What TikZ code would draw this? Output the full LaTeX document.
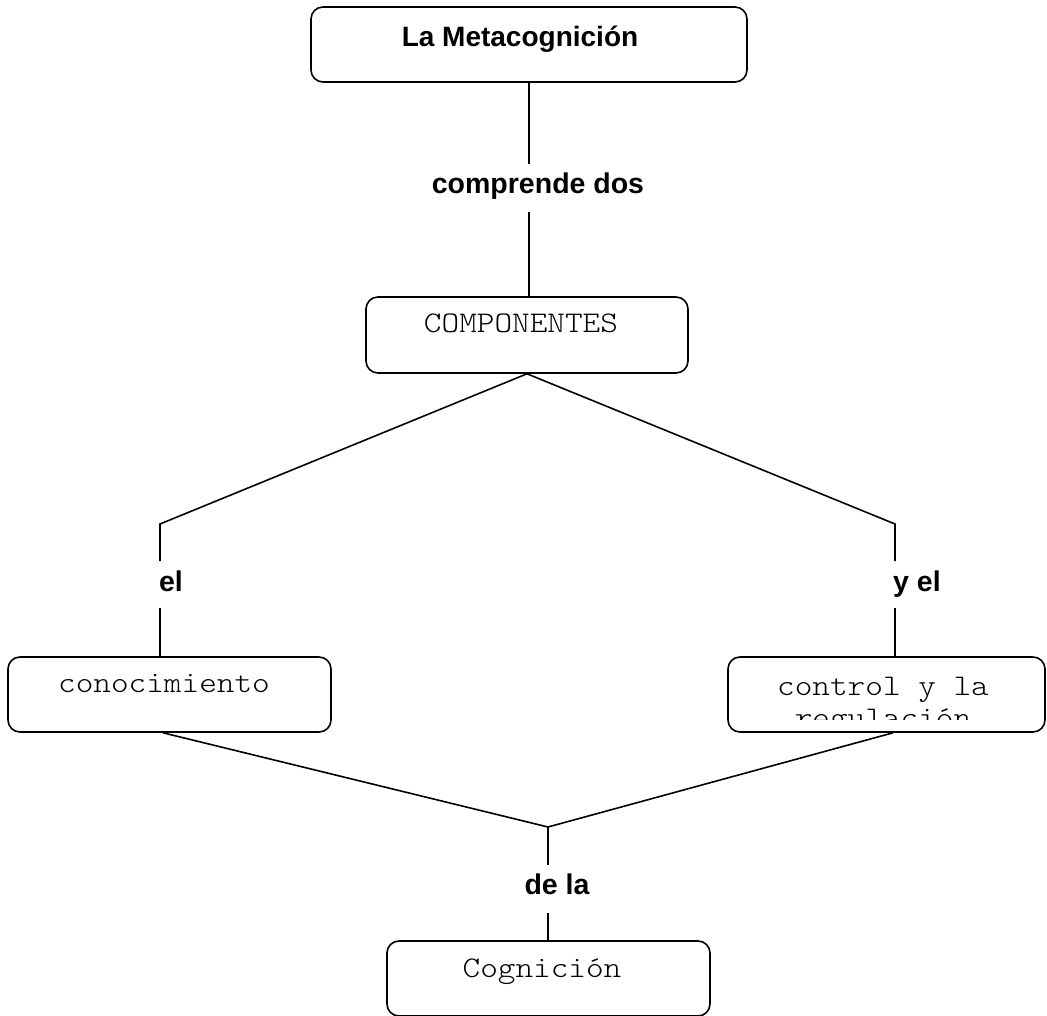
\documentclass[tikz,border=0pt]{standalone}
\usepackage{fontspec}
\setmainfont{Liberation Sans}
\newfontfamily\monofam[FakeStretch=1.12]{lmmonolt10-regular.otf}
\begin{document}
\begin{tikzpicture}[x=1pt,y=-1pt,
  box/.style={draw, line width=1.6pt, rounded corners=12pt, inner sep=0pt},
  boxtext/.style={anchor=base, inner sep=0pt, font=\monofam\fontsize{30}{32}\selectfont},
  title/.style={anchor=base, inner sep=0pt, font=\bfseries\fontsize{28}{32}\selectfont},
  linkword/.style={anchor=base, inner sep=0pt, font=\bfseries\fontsize{28.5}{32}\selectfont},
  link/.style={line width=1.6pt}]
\useasboundingbox (0,0) rectangle (1047,1016);

% concept boxes
\node[box, minimum width=436pt, minimum height=75pt] (meta) at (529,44.5) {};
\node[title] (metat) at (520,47) {La Metacognición};

\node[box, minimum width=322pt, minimum height=76pt] (comp) at (527,335) {};
\node[boxtext] (compt) at (521,333) {COMPONENTES};

\node[box, minimum width=323pt, minimum height=75pt] (con) at (169.5,694.5) {};
\node[boxtext] (cont) at (164,692) {conocimiento};

\node[box, minimum width=317pt, minimum height=75pt] (ctrl) at (886.5,694.5) {};
\begin{scope}
  \clip (729,658) rectangle (1044,719);
  \node[boxtext] (ctrla) at (883,695) {control y la};
  \node[boxtext] (ctrlb) at (883,727) {regulación};
\end{scope}

\node[box, minimum width=323pt, minimum height=75pt] (cog) at (548.5,978.5) {};
\node[boxtext] (cogt) at (542,977) {Cognición};

% linking words
\node[linkword] (w1) at (538,194) {comprende dos};
\node[linkword] (w2) at (171,591) {el};
\node[linkword] (w3) at (917,591) {y el};
\node[linkword] (w4) at (557,894) {de la};

% junction points
\coordinate (a1) at (529,164);
\coordinate (a2) at (529,212);
\coordinate (l0) at (160,524);
\coordinate (l1) at (160,561);
\coordinate (l2) at (160,608);
\coordinate (r0) at (895,524);
\coordinate (r1) at (895,561);
\coordinate (r2) at (895,608);
\coordinate (m0) at (548,827);
\coordinate (m1) at (548,865);
\coordinate (m2) at (548,913);

% connectors
\draw[link] (meta.south) -- (a1);
\draw[link] (a2) -- (comp.north -| a2);
\draw[link] (comp.south) -- (l0) -- (l1);
\draw[link] (l2) -- (con.north -| l2);
\draw[link] (comp.south) -- (r0) -- (r1);
\draw[link] (r2) -- (ctrl.north -| r2);
\draw[link] (con.south -| 163,0) -- (m0);
\draw[link] (ctrl.south -| 893,0) -- (m0);
\draw[link] (m0) -- (m1);
\draw[link] (m2) -- (cog.north -| m2);
\end{tikzpicture}
\end{document}
